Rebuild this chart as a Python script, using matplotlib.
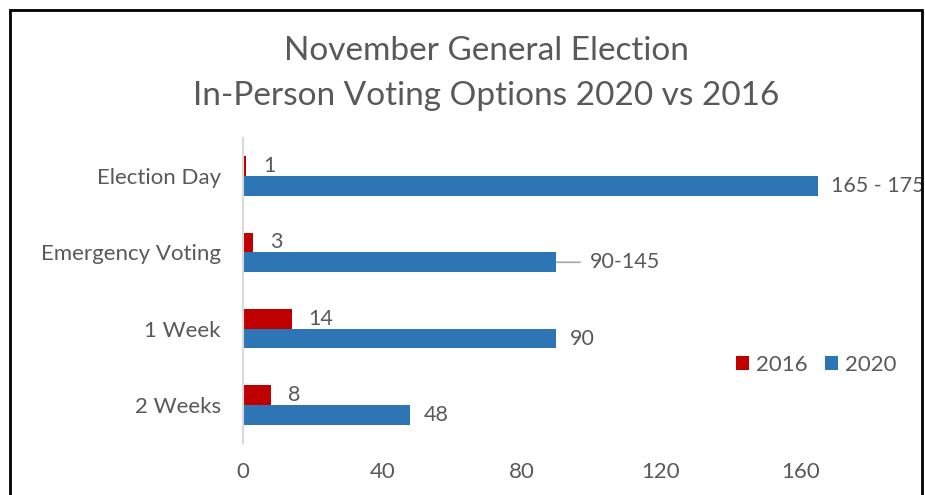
import matplotlib
matplotlib.use("Agg")
import matplotlib.pyplot as plt
from matplotlib.patches import Rectangle
import numpy as np

categories = ["Election Day", "Emergency Voting", "1 Week", "2 Weeks"]
vals_2016 = [1, 3, 14, 8]
vals_2020 = [165, 90, 90, 48]
labels_2016 = ["1", "3", "14", "8"]
labels_2020 = ["165 - 175", "90-145", "90", "48"]
xticks = [0, 40, 80, 120, 160]

RED = "#C00000"
BLUE = "#2E75B6"
TXT = "#595959"

plt.rcParams['font.family'] = ['Lato', 'DejaVu Sans']

fig = plt.figure(figsize=(9.25, 4.95), dpi=100)
ax = fig.add_axes([243/925, 1-443/495, 679/925, 305/495])

y = np.arange(len(categories))
h = 0.26
b16 = ax.barh(y - h/2, vals_2016, height=h, color=RED, label="2016")
b20 = ax.barh(y + h/2, vals_2020, height=h, color=BLUE, label="2020")

ax.set_xlim(0, 195)
ax.set_ylim(3.5, -0.5)
ax.set_yticks(y)
ax.set_yticklabels(categories, fontsize=16, color=TXT)
ax.set_xticks(xticks)
ax.set_xticklabels([str(t) for t in xticks], fontsize=16, color=TXT)
ax.tick_params(axis='both', length=0)
ax.tick_params(axis='x', pad=14)
ax.tick_params(axis='y', pad=16)
for s in ['top', 'right', 'bottom']:
    ax.spines[s].set_visible(False)
ax.spines['left'].set_color("#D9D9D9")
ax.spines['left'].set_linewidth(1.5)

for yi, v, lab in zip(y, vals_2016, labels_2016):
    ax.annotate(lab, xy=(v, yi - h/2), xytext=(12, 0), textcoords='offset points',
                ha='left', va='center', fontsize=15.5, color=TXT)
for yi, v, lab in zip(y, vals_2020, labels_2020):
    if lab == "90-145":
        ax.annotate(lab, xy=(v, yi + h/2), xytext=(24, 0), textcoords='offset points',
                    ha='left', va='center', fontsize=15.5, color=TXT,
                    arrowprops=dict(arrowstyle='-', color="#A6A6A6", lw=1.2,
                                    shrinkA=5, shrinkB=0))
    else:
        ax.annotate(lab, xy=(v, yi + h/2), xytext=(10, 0), textcoords='offset points',
                    ha='left', va='center', fontsize=15.5, color=TXT)

leg = ax.legend(loc='center', bbox_to_anchor=((816-243)/679, (443-365)/305),
                ncol=2, frameon=False, fontsize=16, handlelength=0.6, handleheight=0.6,
                handletextpad=0.3, columnspacing=0.8, labelcolor=TXT)

fig.text(486/925, 1-51/495, "November General Election", ha='center', va='center',
         fontsize=24, color=TXT)
fig.text(486/925, 1-96/495, "In-Person Voting Options 2020 vs 2016", ha='center', va='center',
         fontsize=24, color=TXT)

fig.patches.append(Rectangle((10/925, -0.2), 912/925, 1.2 - 10/495, transform=fig.transFigure,
                             fill=False, edgecolor='black', linewidth=2, figure=fig))

fig.savefig("out.png", dpi=100)
